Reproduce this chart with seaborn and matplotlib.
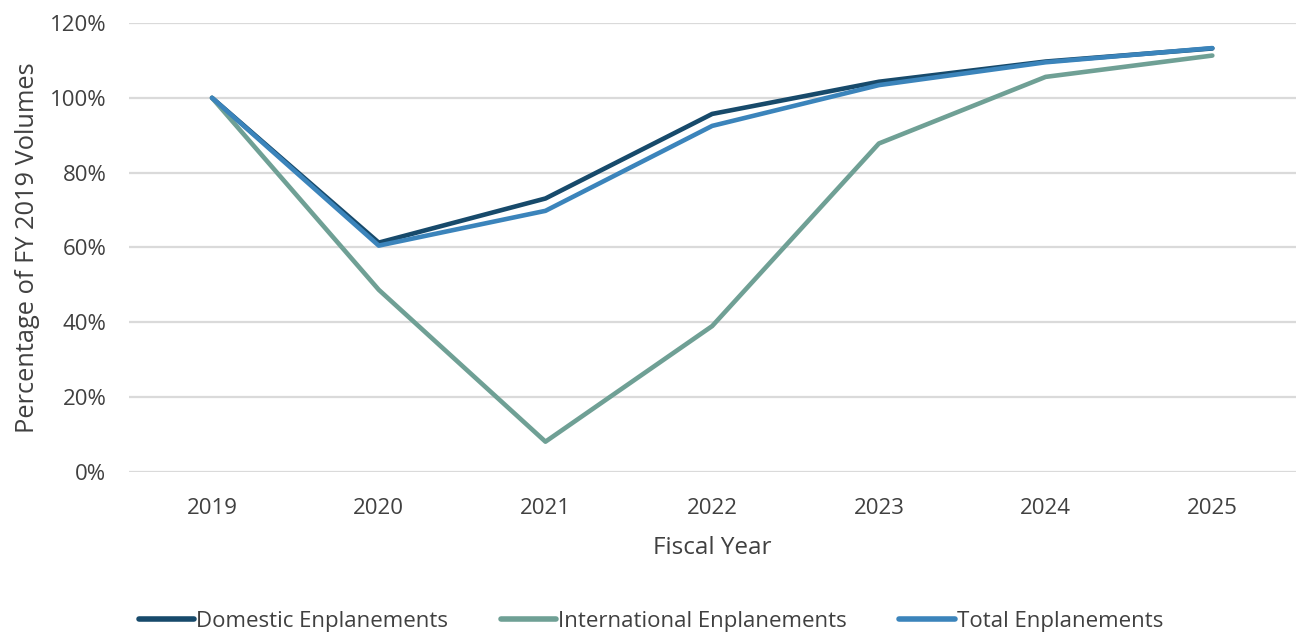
import matplotlib
matplotlib.use("Agg")
import matplotlib.pyplot as plt
import matplotlib.ticker as mtick
import pandas as pd
import seaborn as sns

# Fiscal years and volumes as share of FY 2019
years = [2019, 2020, 2021, 2022, 2023, 2024, 2025]
domestic = [1.000, 0.613, 0.731, 0.957, 1.043, 1.097, 1.132]
international = [1.000, 0.487, 0.081, 0.390, 0.878, 1.056, 1.113]
total = [1.000, 0.605, 0.698, 0.925, 1.034, 1.095, 1.133]

series_names = ["Domestic Enplanements", "International Enplanements", "Total Enplanements"]
colors = ["#174a6b", "#6fa095", "#3b84bb"]

df = pd.DataFrame({
    "year": years * 3,
    "value": domestic + international + total,
    "series": [s for s in series_names for _ in years],
})

sns.set_theme(style="white")
plt.rcParams["font.family"] = ["Open Sans", "DejaVu Sans"]

fig = plt.figure(figsize=(12.97, 6.32), dpi=100)
ax = fig.add_axes([0.0992, 0.2532, 0.8998, 0.7104])

sns.lineplot(data=df, x="year", y="value", hue="series", hue_order=series_names,
             palette=colors, linewidth=3.3, ax=ax, sort=False)
for line in ax.get_lines():
    line.set_solid_capstyle("round")
    line.set_solid_joinstyle("round")

ax.set_xlim(2018.5, 2025.5)
ax.set_ylim(0, 1.2)
ax.set_xticks(years)
ax.set_yticks([0, 0.2, 0.4, 0.6, 0.8, 1.0, 1.2])
ax.yaxis.set_major_formatter(mtick.PercentFormatter(1.0, decimals=0))
ax.grid(axis="y", color="#dadada", linewidth=1.6)
ax.set_axisbelow(True)
for sp in ax.spines.values():
    sp.set_visible(False)
ax.tick_params(axis="both", length=0, labelsize=16, colors="#404040")
ax.tick_params(axis="x", pad=19)
ax.tick_params(axis="y", pad=16)

ax.set_xlabel("Fiscal Year", fontsize=17.5, color="#404040", labelpad=12)
ax.set_ylabel("Percentage of FY 2019 Volumes", fontsize=18.3, color="#404040", labelpad=7)

ax.legend(loc="center", bbox_to_anchor=(0.4476, -0.333), ncol=3, frameon=False,
          fontsize=16, handlelength=2.5, handletextpad=0.1, columnspacing=2.35,
          labelcolor="#404040")
for h in ax.get_legend().get_lines():
    h.set_linewidth(4)
    h.set_solid_capstyle("round")

fig.savefig("out.png", dpi=100)
